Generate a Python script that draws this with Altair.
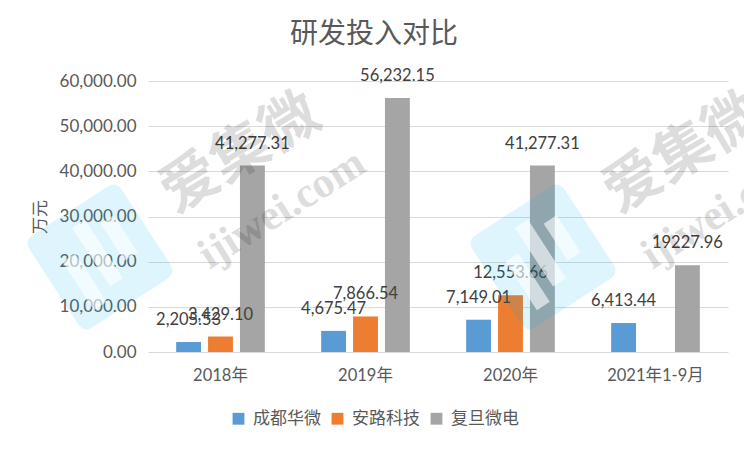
import altair as alt
import pandas as pd

# ---- data ----
categories = ["2018年", "2019年", "2020年", "2021年1-9月"]
series = ["成都华微", "安路科技", "复旦微电"]
colors = ["#5B9BD5", "#ED7D31", "#A5A5A5"]

chengdu = [2205.53, 4675.47, 7149.01, 6413.44]
anlu = [3429.10, 7866.54, 12553.66, None]
fudan = [41277.31, 56232.15, 41277.31, 19227.96]

chengdu_labels = ["2,205.53", "4,675.47", "7,149.01", "6,413.44"]
anlu_labels = ["3,429.10", "7,866.54", "12,553.66", ""]
fudan_labels = ["41,277.31", "56,232.15", "41,277.31", "19227.96"]

y_ticks = [0, 10000, 20000, 30000, 40000, 50000, 60000]

rows = []
for s, vals, labs in zip(series, [chengdu, anlu, fudan], [chengdu_labels, anlu_labels, fudan_labels]):
    for c, v, l in zip(categories, vals, labs):
        if v is not None:
            rows.append({"category": c, "series": s, "value": v, "label": l})
df = pd.DataFrame(rows)

NUM_FONT = "Lato, 'Noto Sans CJK SC', sans-serif"
CJK_FONT = "'Noto Sans CJK SC', sans-serif"
GRAY = "#595959"

x_enc = alt.X(
    "category:N",
    sort=categories,
    scale=alt.Scale(domain=categories, paddingInner=0.34, paddingOuter=0.17),
    axis=alt.Axis(
        title=None, labelAngle=0, labelFontSize=16.5, labelColor=GRAY, labelFont=NUM_FONT,
        labelPadding=15, domain=False, ticks=False, grid=False,
    ),
)
xoff_enc = alt.XOffset("series:N", scale=alt.Scale(domain=series, paddingInner=0.22, paddingOuter=0.11))
y_enc = alt.Y(
    "value:Q",
    scale=alt.Scale(domain=[0, 60000], nice=False),
    axis=alt.Axis(
        values=y_ticks, format=",.2f", title="万元",
        grid=True, gridColor="#D9D9D9", gridWidth=1.2, domain=False, ticks=False,
        labelPadding=12, labelFontSize=17, labelColor=GRAY, labelFont=NUM_FONT,
        titleFontSize=17, titleColor=GRAY, titleFont=CJK_FONT, titleFontWeight="normal",
        titleX=-108, titleY=135.5, titleBaseline="middle", titleAlign="center",
    ),
)

base = alt.Chart(df)

bars = base.mark_bar().encode(
    x=x_enc,
    xOffset=xoff_enc,
    y=y_enc,
    color=alt.Color(
        "series:N",
        scale=alt.Scale(domain=series, range=colors),
        legend=alt.Legend(
            title=None, orient="none", legendX=82, legendY=329, direction="horizontal",
            symbolType="square", symbolSize=140, symbolStrokeWidth=0,
            labelFontSize=17, labelFont=CJK_FONT, labelColor=GRAY,
            labelOffset=6, columnPadding=8,
        ),
    ),
)

labels = base.mark_text(
    dy=-17, baseline="alphabetic", fontSize=16.5, font=NUM_FONT, color="#404040"
).encode(
    x=alt.X("category:N", sort=categories),
    xOffset=alt.XOffset("series:N"),
    y=alt.Y("value:Q"),
    text="label:N",
)

# ---- watermark (decoration) ----
one = alt.Data(values=[{"k": 1}])
logo_path = ("M -0.8 -1 L 0.8 -1 Q 1 -1 1 -0.8 L 1 0.8 Q 1 1 0.8 1 L -0.8 1 "
             "Q -1 1 -1 0.8 L -1 -0.8 Q -1 -1 -0.8 -1 Z")
bars_path = ("M -0.62 -0.3 L -0.34 -0.3 L -0.34 0.75 L -0.62 0.75 Z "
             "M -0.14 -0.72 L 0.14 -0.72 L 0.14 0.55 L -0.14 0.55 Z "
             "M 0.34 -0.5 L 0.62 -0.5 L 0.62 0.3 L 0.34 0.3 Z")

wm_layers = []
for ox in [0, 443]:
    wm_layers.append(
        alt.Chart(one).mark_point(
            shape=logo_path, filled=True, fill="#00B4F0", opacity=0.13, size=12100,
            angle=327, strokeWidth=0,
        ).encode(x=alt.value(-48 + ox), y=alt.value(176))
    )
    wm_layers.append(
        alt.Chart(one).mark_point(
            shape=bars_path, filled=True, fill="#FFFFFF", opacity=0.6, size=12100,
            angle=327, strokeWidth=0,
        ).encode(x=alt.value(-48 + ox), y=alt.value(176))
    )
    wm_layers.append(
        alt.Chart(one).mark_text(
            text="爱集微", fontSize=58, font=CJK_FONT, fontWeight="bold", angle=329,
            color="#000000", opacity=0.13, align="center", baseline="middle",
        ).encode(x=alt.value(93 + ox), y=alt.value(73))
    )
    wm_layers.append(
        alt.Chart(one).mark_text(
            text="ijiwei.com", fontSize=43, font="'Liberation Serif', 'DejaVu Serif', serif",
            fontWeight="bold", angle=328, color="#000000", opacity=0.13,
            align="center", baseline="middle",
        ).encode(x=alt.value(134 + ox), y=alt.value(128))
    )

chart = alt.layer(bars, labels, *wm_layers).properties(
    width=580,
    height=271,
    title=alt.TitleParams(
        "研发投入对比", fontSize=28, font=CJK_FONT, fontWeight="normal", color=GRAY,
        anchor="middle", dx=-64, offset=19,
    ),
    padding={"left": 140, "top": 73, "right": 16, "bottom": 92},
    autosize=alt.AutoSizeParams(type="none"),
    background="white",
).configure_view(strokeWidth=0)

chart.save("out.html", embed_options={"renderer": "svg", "actions": False})
